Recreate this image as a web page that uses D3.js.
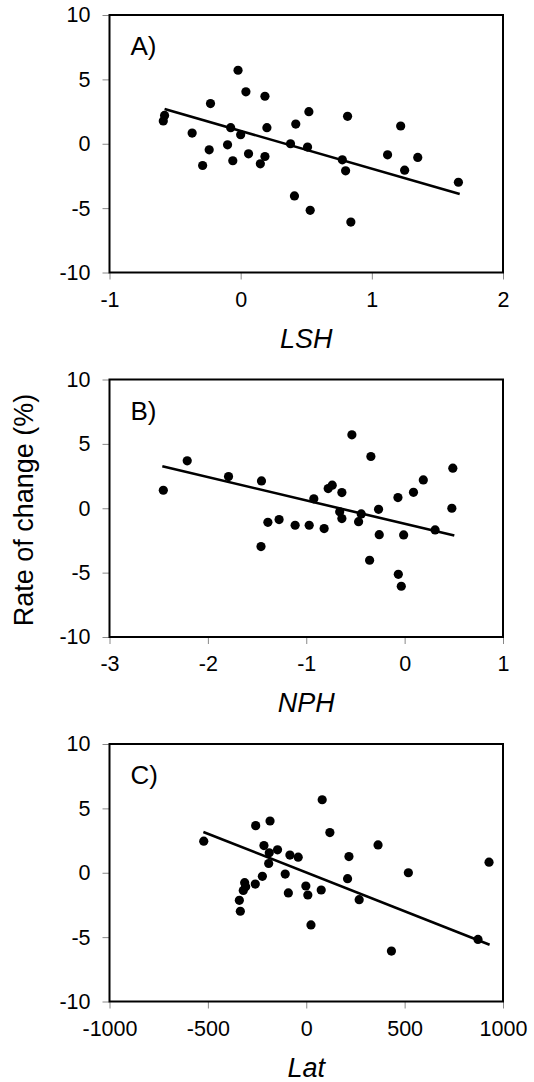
<!DOCTYPE html>
<html>
<head>
<meta charset="utf-8">
<script src="https://cdn.jsdelivr.net/npm/d3@7"></script>
<style>
  body { margin: 0; background: #fff; }
  svg { display: block; font-family: 'Liberation Sans', Arial, sans-serif; }
</style>
</head>
<body>
<div id="chart"></div>
<script>
// panel A: LSH vs rate of change
const pointsA = [
  [-0.58, 2.2], [-0.59, 1.77], [-0.37, 0.83], [-0.23, 3.12], [-0.24, -0.47],
  [-0.29, -1.69], [-0.02, 5.71], [0.04, 4.03], [0.185, 3.69], [-0.076, 1.25],
  [0.0, 0.7], [-0.1, -0.08], [-0.06, -1.32], [0.06, -0.78], [0.2, 1.25],
  [0.185, -0.99], [0.15, -1.56], [0.38, 0.0], [0.42, 1.53], [0.52, 2.49],
  [0.51, -0.26], [0.41, -4.05], [0.53, -5.17], [0.815, 2.13], [0.775, -1.25],
  [0.8, -2.1], [0.84, -6.08], [1.12, -0.86], [1.22, 1.38], [1.25, -2.05],
  [1.35, -1.06], [1.66, -2.99]
]
const fitA = [[-0.58, 2.7], [1.67, -3.9]]

// panel B: NPH
const pointsB = [
  [-2.453, 1.4], [-2.21, 3.68], [-1.79, 2.46], [-1.455, 2.12], [-1.46, -2.98],
  [-1.39, -1.09], [-1.276, -0.88], [-1.113, -1.32], [-0.97, -1.32], [-0.818, -1.58],
  [-0.923, 0.73], [-0.777, 1.53], [-0.736, 1.79], [-0.638, 1.22], [-0.66, -0.28],
  [-0.638, -0.8], [-0.536, 5.7], [-0.343, 4.02], [-0.441, -0.44], [-0.468, -1.04],
  [-0.265, -0.08], [-0.258, -2.05], [-0.356, -4.04], [-0.068, 0.83], [-0.064, -5.13],
  [-0.034, -6.06], [-0.01, -2.07], [0.09, 1.24], [0.19, 2.2], [0.31, -1.68],
  [0.49, 3.11], [0.48, 0.0]
]
const fitB = [[-2.463, 3.26], [0.505, -2.12]]

// panel C: Lat
const pointsC = [
  [-521, 2.45], [-257, 3.66], [-184, 4.02], [-215, 2.11], [-188, 1.55],
  [-146, 1.78], [-191, 0.72], [-83, 1.37], [-41, 1.21], [-107, -0.1],
  [-223, -0.28], [-259, -0.88], [-313, -0.77], [-308, -1.08], [-320, -1.37],
  [-340, -2.14], [-335, -2.99], [-91, -1.57], [-2, -1.03], [8, -1.73],
  [24, -4.05], [76, -1.34], [81, 5.67], [120, 3.12], [217, 1.26],
  [210, -0.46], [269, -2.09], [365, 2.16], [519, 0.0], [433, -6.08],
  [873, -5.18], [929, 0.82]
]
const fitC = [[-523, 3.17], [932, -5.59]]

const yTicks = [-10, -5, 0, 5, 10]
const xTicksA = [-1, 0, 1, 2]
const xTicksB = [-3, -2, -1, 0, 1]
const xTicksC = [-1000, -500, 0, 500, 1000]

const panels = [
  { label: 'A)', title: 'LSH', pts: pointsA, fit: fitA, ticks: xTicksA, top: 15 },
  { label: 'B)', title: 'NPH', pts: pointsB, fit: fitB, ticks: xTicksB, top: 379.5 },
  { label: 'C)', title: 'Lat', pts: pointsC, fit: fitC, ticks: xTicksC, top: 744 }
]

const width = 534
const height = 1082
const left = 109.5
const right = 503
const ph = 257.5
const fmt = d => String(d)

const svg = d3.select('#chart')
  .append('svg')
  .attr('width', width)
  .attr('height', height)

panels.forEach(p => {
  const x = d3.scaleLinear()
    .domain(d3.extent(p.ticks))
    .range([left, right])
  const y = d3.scaleLinear()
    .domain([-10, 10])
    .range([p.top + ph, p.top])

  const g = svg.append('g')

  const yAxis = g.append('g')
    .attr('transform', `translate(${left},0)`)
    .call(d3.axisLeft(y).tickValues(yTicks).tickFormat(fmt).tickSize(7).tickPadding(12))
  const xAxis = g.append('g')
    .attr('transform', `translate(0,${p.top + ph})`)
    .call(d3.axisBottom(x).tickValues(p.ticks).tickFormat(fmt).tickSize(7).tickPadding(12))

  ;[yAxis, xAxis].forEach(a => {
    a.select('.domain').remove()
    a.selectAll('.tick line').attr('stroke', '#888').attr('stroke-width', 1)
    a.selectAll('.tick text')
      .attr('fill', '#000')
      .style('font-size', '21.5px')
  })

  // frame
  g.append('rect')
    .attr('x', left)
    .attr('y', p.top)
    .attr('width', right - left)
    .attr('height', ph)
    .attr('fill', 'none')
    .attr('stroke', '#000')
    .attr('stroke-width', 2)

  g.append('text')
    .attr('x', left + 21)
    .attr('y', p.top + 40)
    .style('font-size', '26px')
    .text(p.label)

  g.append('text')
    .attr('x', (left + right) / 2)
    .attr('y', p.top + ph + 75)
    .attr('text-anchor', 'middle')
    .style('font-size', '27px')
    .style('font-style', 'italic')
    .text(p.title)

  g.selectAll('circle')
    .data(p.pts)
    .enter()
    .append('circle')
    .attr('cx', d => x(d[0]))
    .attr('cy', d => y(d[1]))
    .attr('r', 4.6)
    .attr('fill', '#000')

  g.append('path')
    .datum(p.fit)
    .attr('d', d3.line().x(d => x(d[0])).y(d => y(d[1])))
    .attr('stroke', '#000')
    .attr('stroke-width', 2.6)
    .attr('fill', 'none')
})

svg.append('text')
  .attr('transform', 'translate(33,510) rotate(-90)')
  .attr('text-anchor', 'middle')
  .style('font-size', '27px')
  .text('Rate of change (%)')
</script>
</body>
</html>
